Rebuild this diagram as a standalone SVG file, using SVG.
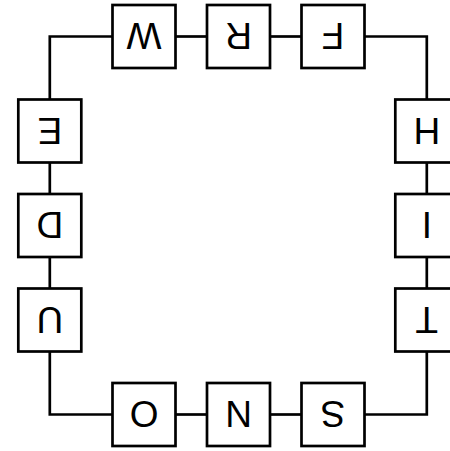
<svg xmlns="http://www.w3.org/2000/svg" width="450" height="451" viewBox="0 0 450 451">
<style>
.box{fill:#fff;stroke:#000;stroke-width:2.7}
.edge{fill:none;stroke:#000;stroke-width:2.7}
.lbl{font-family:"Liberation Sans",Arial,sans-serif;font-size:37px;fill:#000;text-anchor:middle}
</style>
<rect width="450" height="451" fill="#fff"/>
<g id="connectors">
<polyline class="edge" points="49.8,99.5 49.8,36.5 112.5,36.5"/>
<line class="edge" x1="175.5" y1="36.5" x2="207" y2="36.5"/>
<line class="edge" x1="270" y1="36.5" x2="301.5" y2="36.5"/>
<polyline class="edge" points="364.5,36.5 426.8,36.5 426.8,99.5"/>
<line class="edge" x1="426.8" y1="162.5" x2="426.8" y2="194"/>
<line class="edge" x1="426.8" y1="257" x2="426.8" y2="288.5"/>
<polyline class="edge" points="426.8,351.5 426.8,414.5 364.5,414.5"/>
<line class="edge" x1="301.5" y1="414.5" x2="270" y2="414.5"/>
<line class="edge" x1="207" y1="414.5" x2="175.5" y2="414.5"/>
<polyline class="edge" points="112.5,414.5 49.8,414.5 49.8,351.5"/>
<line class="edge" x1="49.8" y1="288.5" x2="49.8" y2="257"/>
<line class="edge" x1="49.8" y1="194" x2="49.8" y2="162.5"/>
</g>
<g id="W"><rect class="box" x="112.5" y="5" width="63" height="63"/><text class="lbl" x="144" y="49.8" transform="rotate(180 144 36.5)">W</text></g>
<g id="R"><rect class="box" x="207" y="5" width="63" height="63"/><text class="lbl" x="238.5" y="49.8" transform="rotate(180 238.5 36.5)">R</text></g>
<g id="F"><rect class="box" x="301.5" y="5" width="63" height="63"/><text class="lbl" x="333" y="49.8" transform="rotate(180 333 36.5)">F</text></g>
<g id="H"><rect class="box" x="395.3" y="99.5" width="63" height="63"/><text class="lbl" x="426.8" y="144.3" transform="rotate(180 426.8 131)">H</text></g>
<g id="I"><rect class="box" x="395.3" y="194" width="63" height="63"/><text class="lbl" x="426.8" y="238.8" transform="rotate(180 426.8 225.5)">I</text></g>
<g id="T"><rect class="box" x="395.3" y="288.5" width="63" height="63"/><text class="lbl" x="426.8" y="333.3" transform="rotate(180 426.8 320)">T</text></g>
<g id="S"><rect class="box" x="301.5" y="383" width="63" height="63"/><text class="lbl" x="333" y="427.8" transform="rotate(180 333 414.5)">S</text></g>
<g id="N"><rect class="box" x="207" y="383" width="63" height="63"/><text class="lbl" x="238.5" y="427.8" transform="rotate(180 238.5 414.5)">N</text></g>
<g id="O"><rect class="box" x="112.5" y="383" width="63" height="63"/><text class="lbl" x="144" y="427.8" transform="rotate(180 144 414.5)">O</text></g>
<g id="U"><rect class="box" x="18.3" y="288.5" width="63" height="63"/><text class="lbl" x="49.8" y="333.3" transform="rotate(180 49.8 320)">U</text></g>
<g id="D"><rect class="box" x="18.3" y="194" width="63" height="63"/><text class="lbl" x="49.8" y="238.8" transform="rotate(180 49.8 225.5)">D</text></g>
<g id="E"><rect class="box" x="18.3" y="99.5" width="63" height="63"/><text class="lbl" x="49.8" y="144.3" transform="rotate(180 49.8 131)">E</text></g>
</svg>
